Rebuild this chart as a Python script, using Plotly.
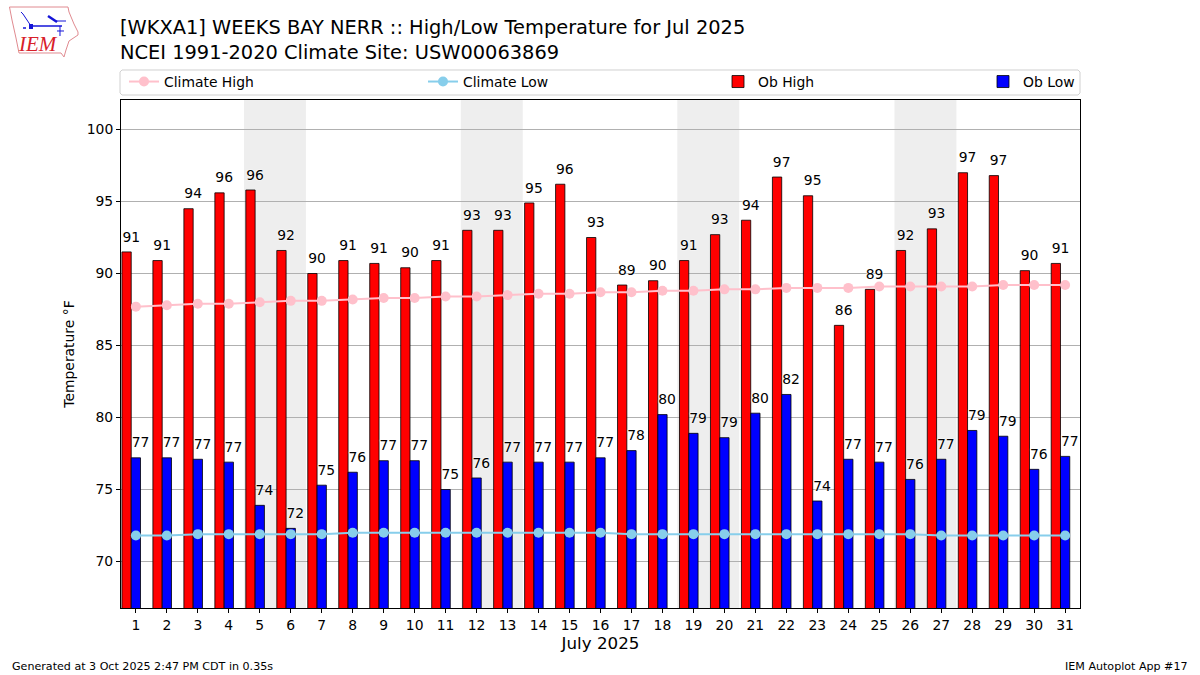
import plotly.graph_objects as go

days = list(range(1, 32))
ob_high = [91.5, 90.9, 94.5, 95.6, 95.8, 91.6, 90.0, 90.9, 90.7, 90.4, 90.9, 93.0, 93.0, 94.9, 96.2, 92.5,
           89.2, 89.5, 90.9, 92.7, 93.7, 96.7, 95.4, 86.4, 88.9, 91.6, 93.1, 97.0, 96.8, 90.2, 90.7]
ob_low = [77.2, 77.2, 77.1, 76.9, 73.9, 72.3, 75.3, 76.2, 77.0, 77.0, 75.0, 75.8, 76.9, 76.9, 76.9, 77.2,
          77.7, 80.2, 78.9, 78.6, 80.3, 81.6, 74.2, 77.1, 76.9, 75.7, 77.1, 79.1, 78.7, 76.4, 77.3]
high_labels = [91, 91, 94, 96, 96, 92, 90, 91, 91, 90, 91, 93, 93, 95, 96, 93,
               89, 90, 91, 93, 94, 97, 95, 86, 89, 92, 93, 97, 97, 90, 91]
low_labels = [77, 77, 77, 77, 74, 72, 75, 76, 77, 77, 75, 76, 77, 77, 77, 77,
              78, 80, 79, 79, 80, 82, 74, 77, 77, 76, 77, 79, 79, 76, 77]
climate_high = [87.7, 87.8, 87.9, 87.9, 88.0, 88.1, 88.1, 88.2, 88.3, 88.3, 88.4, 88.4, 88.5, 88.6, 88.6, 88.7,
                88.7, 88.8, 88.8, 88.9, 88.9, 89.0, 89.0, 89.0, 89.1, 89.1, 89.1, 89.1, 89.2, 89.2, 89.2]
climate_low = [71.8, 71.8, 71.9, 71.9, 71.9, 71.9, 71.9, 72.0, 72.0, 72.0, 72.0, 72.0, 72.0, 72.0, 72.0, 72.0,
               71.9, 71.9, 71.9, 71.9, 71.9, 71.9, 71.9, 71.9, 71.9, 71.9, 71.8, 71.8, 71.8, 71.8, 71.8]
weekends = [(4.49, 6.49), (11.49, 13.49), (18.48, 20.48), (25.49, 27.49)]

FONT = "DejaVu Sans"
L, R, T, B = 121, 1080, 100, 608
def px(x): return (x - L) / (R - L)
def py(y): return (B - y) / (B - T)
def path(points, close=True):
    s = "M" + " L".join(f"{px(x):.5f},{py(y):.5f}" for x, y in points)
    return s + (" Z" if close else "")

fig = go.Figure()
fig.add_trace(go.Scatter(x=days, y=climate_high, name="Climate High", mode="lines+markers", legend="legend",
                         line=dict(color="pink", width=2), marker=dict(color="pink", size=10)))
fig.add_trace(go.Scatter(x=days, y=climate_low, name="Climate Low", mode="lines+markers", legend="legend2",
                         line=dict(color="skyblue", width=2), marker=dict(color="skyblue", size=10)))
fig.add_trace(go.Bar(x=days, y=ob_high, name="Ob High", width=0.3, offset=-0.45, legend="legend3",
                     marker=dict(color="red", line=dict(color="black", width=0.8))))
fig.add_trace(go.Bar(x=days, y=ob_low, name="Ob Low", width=0.3, offset=-0.15, legend="legend4",
                     marker=dict(color="blue", line=dict(color="black", width=0.8))))
halo = "0 0 2px white, 0 0 2px white"
LABEL_GAP = 0.48
fig.add_trace(go.Scatter(x=[d - 0.15 for d in days], y=[v + LABEL_GAP for v in ob_high], text=[str(v) for v in high_labels],
                         mode="text", textposition="top center", showlegend=False, hoverinfo="skip",
                         textfont=dict(family=FONT, size=13.9, color="black", shadow=halo)))
fig.add_trace(go.Scatter(x=[d + 0.15 for d in days], y=[v + LABEL_GAP for v in ob_low], text=[str(v) for v in low_labels],
                         mode="text", textposition="top center", showlegend=False, hoverinfo="skip",
                         textfont=dict(family=FONT, size=13.9, color="black", shadow=halo)))

shapes = [dict(type="rect", xref="x", yref="paper", x0=a, x1=b, y0=0, y1=1, layer="below",
               fillcolor="#eeeeee", line_width=0) for a, b in weekends]
# legend frame
shapes.append(dict(type="path", xref="paper", yref="paper", layer="above",
                   path=path([(122, 70), (1078, 70), (1080, 72), (1080, 93), (1078, 95),
                              (122, 95), (120, 93), (120, 72)]),
                   line=dict(color="#d0d0d0", width=1), fillcolor="white"))
# logo: state outline
shapes.append(dict(type="path", xref="paper", yref="paper", layer="above",
                   path=path([(9.5, 7), (68, 7), (69, 12), (74, 24), (78, 32), (78, 35), (69, 41), (66, 50), (64, 57),
                              (61, 53), (19, 53), (16, 38), (12, 20)]),
                   line=dict(color="#e08a90", width=1)))
# logo: blue station-plot strokes
for pts, w in (([(31, 26), (62, 26)], 1.5), ([(31, 26), (23, 14)], 1), ([(23, 14), (21, 12)], 1),
               ([(48, 16), (57, 22)], 2.5), ([(55, 21), (66, 21)], 1), ([(60, 26), (60, 36)], 1),
               ([(57, 31), (64, 31)], 1), ([(31, 24), (31, 29)], 4), ([(23, 28), (26, 28)], 1.5)):
    shapes.append(dict(type="path", xref="paper", yref="paper", layer="above", path=path(pts, close=False),
                       line=dict(color="#1414d8", width=w)))

annotations = [
    dict(text="<i>IEM</i>", xref="paper", yref="paper", x=px(37.5), y=py(44), xanchor="center", yanchor="middle", showarrow=False,
         font=dict(family="Liberation Serif", size=21, color="#d8202a")),
    dict(text="Generated at 3 Oct 2025 2:47 PM CDT in 0.35s", xref="paper", yref="paper", x=px(10), y=py(666),
         xanchor="left", yanchor="middle", showarrow=False, font=dict(family=FONT, size=11.1, color="black")),
    dict(text="IEM Autoplot App #17", xref="paper", yref="paper", x=px(1190), y=py(666),
         xanchor="right", yanchor="middle", showarrow=False, font=dict(family=FONT, size=11.1, color="black")),
]

def legend_at(x):
    return dict(x=px(x), y=py(82), xanchor="left", yanchor="middle", bgcolor="rgba(0,0,0,0)", borderwidth=0,
                font=dict(family=FONT, size=13.9, color="black"), itemwidth=30, orientation="h")

fig.update_layout(
    width=1200, height=675, autosize=False,
    margin=dict(l=L, r=1200 - R, t=T, b=675 - B),
    paper_bgcolor="white", plot_bgcolor="white",
    font=dict(family=FONT, size=13.9, color="black"),
    title=dict(text="[WKXA1] WEEKS BAY NERR :: High/Low Temperature for Jul 2025<br>NCEI 1991-2020 Climate Site: USW00063869",
               x=120 / 1200, xref="container", xanchor="left", y=1 - 34 / 675, yref="container", yanchor="top",
               font=dict(family=FONT, size=19.4, color="black")),
    barmode="overlay",
    showlegend=True,
    legend=legend_at(124), legend2=legend_at(423), legend3=legend_at(718), legend4=legend_at(983),
    xaxis=dict(range=[0.52, 31.48], tickmode="array", tickvals=days, ticktext=[str(d) for d in days],
               showgrid=False, zeroline=False, showline=True, linecolor="black", linewidth=1, mirror=True,
               ticks="outside", ticklen=4, tickcolor="black", tickfont=dict(size=13.9),
               title=dict(text="July 2025", font=dict(size=16.7), standoff=5)),
    yaxis=dict(range=[66.77, 102.05], tickmode="array", tickvals=[70, 75, 80, 85, 90, 95, 100],
               showgrid=True, gridcolor="#b0b0b0", gridwidth=1, zeroline=False,
               showline=True, linecolor="black", linewidth=1, mirror=True,
               ticks="outside", ticklen=4, tickcolor="black", tickfont=dict(size=13.9),
               title=dict(text="Temperature °F", font=dict(size=13.9), standoff=8)),
    shapes=shapes, annotations=annotations,
)
fig.write_html("out.html", config={"displayModeBar": False}, post_script="document.body.style.margin='0';")
